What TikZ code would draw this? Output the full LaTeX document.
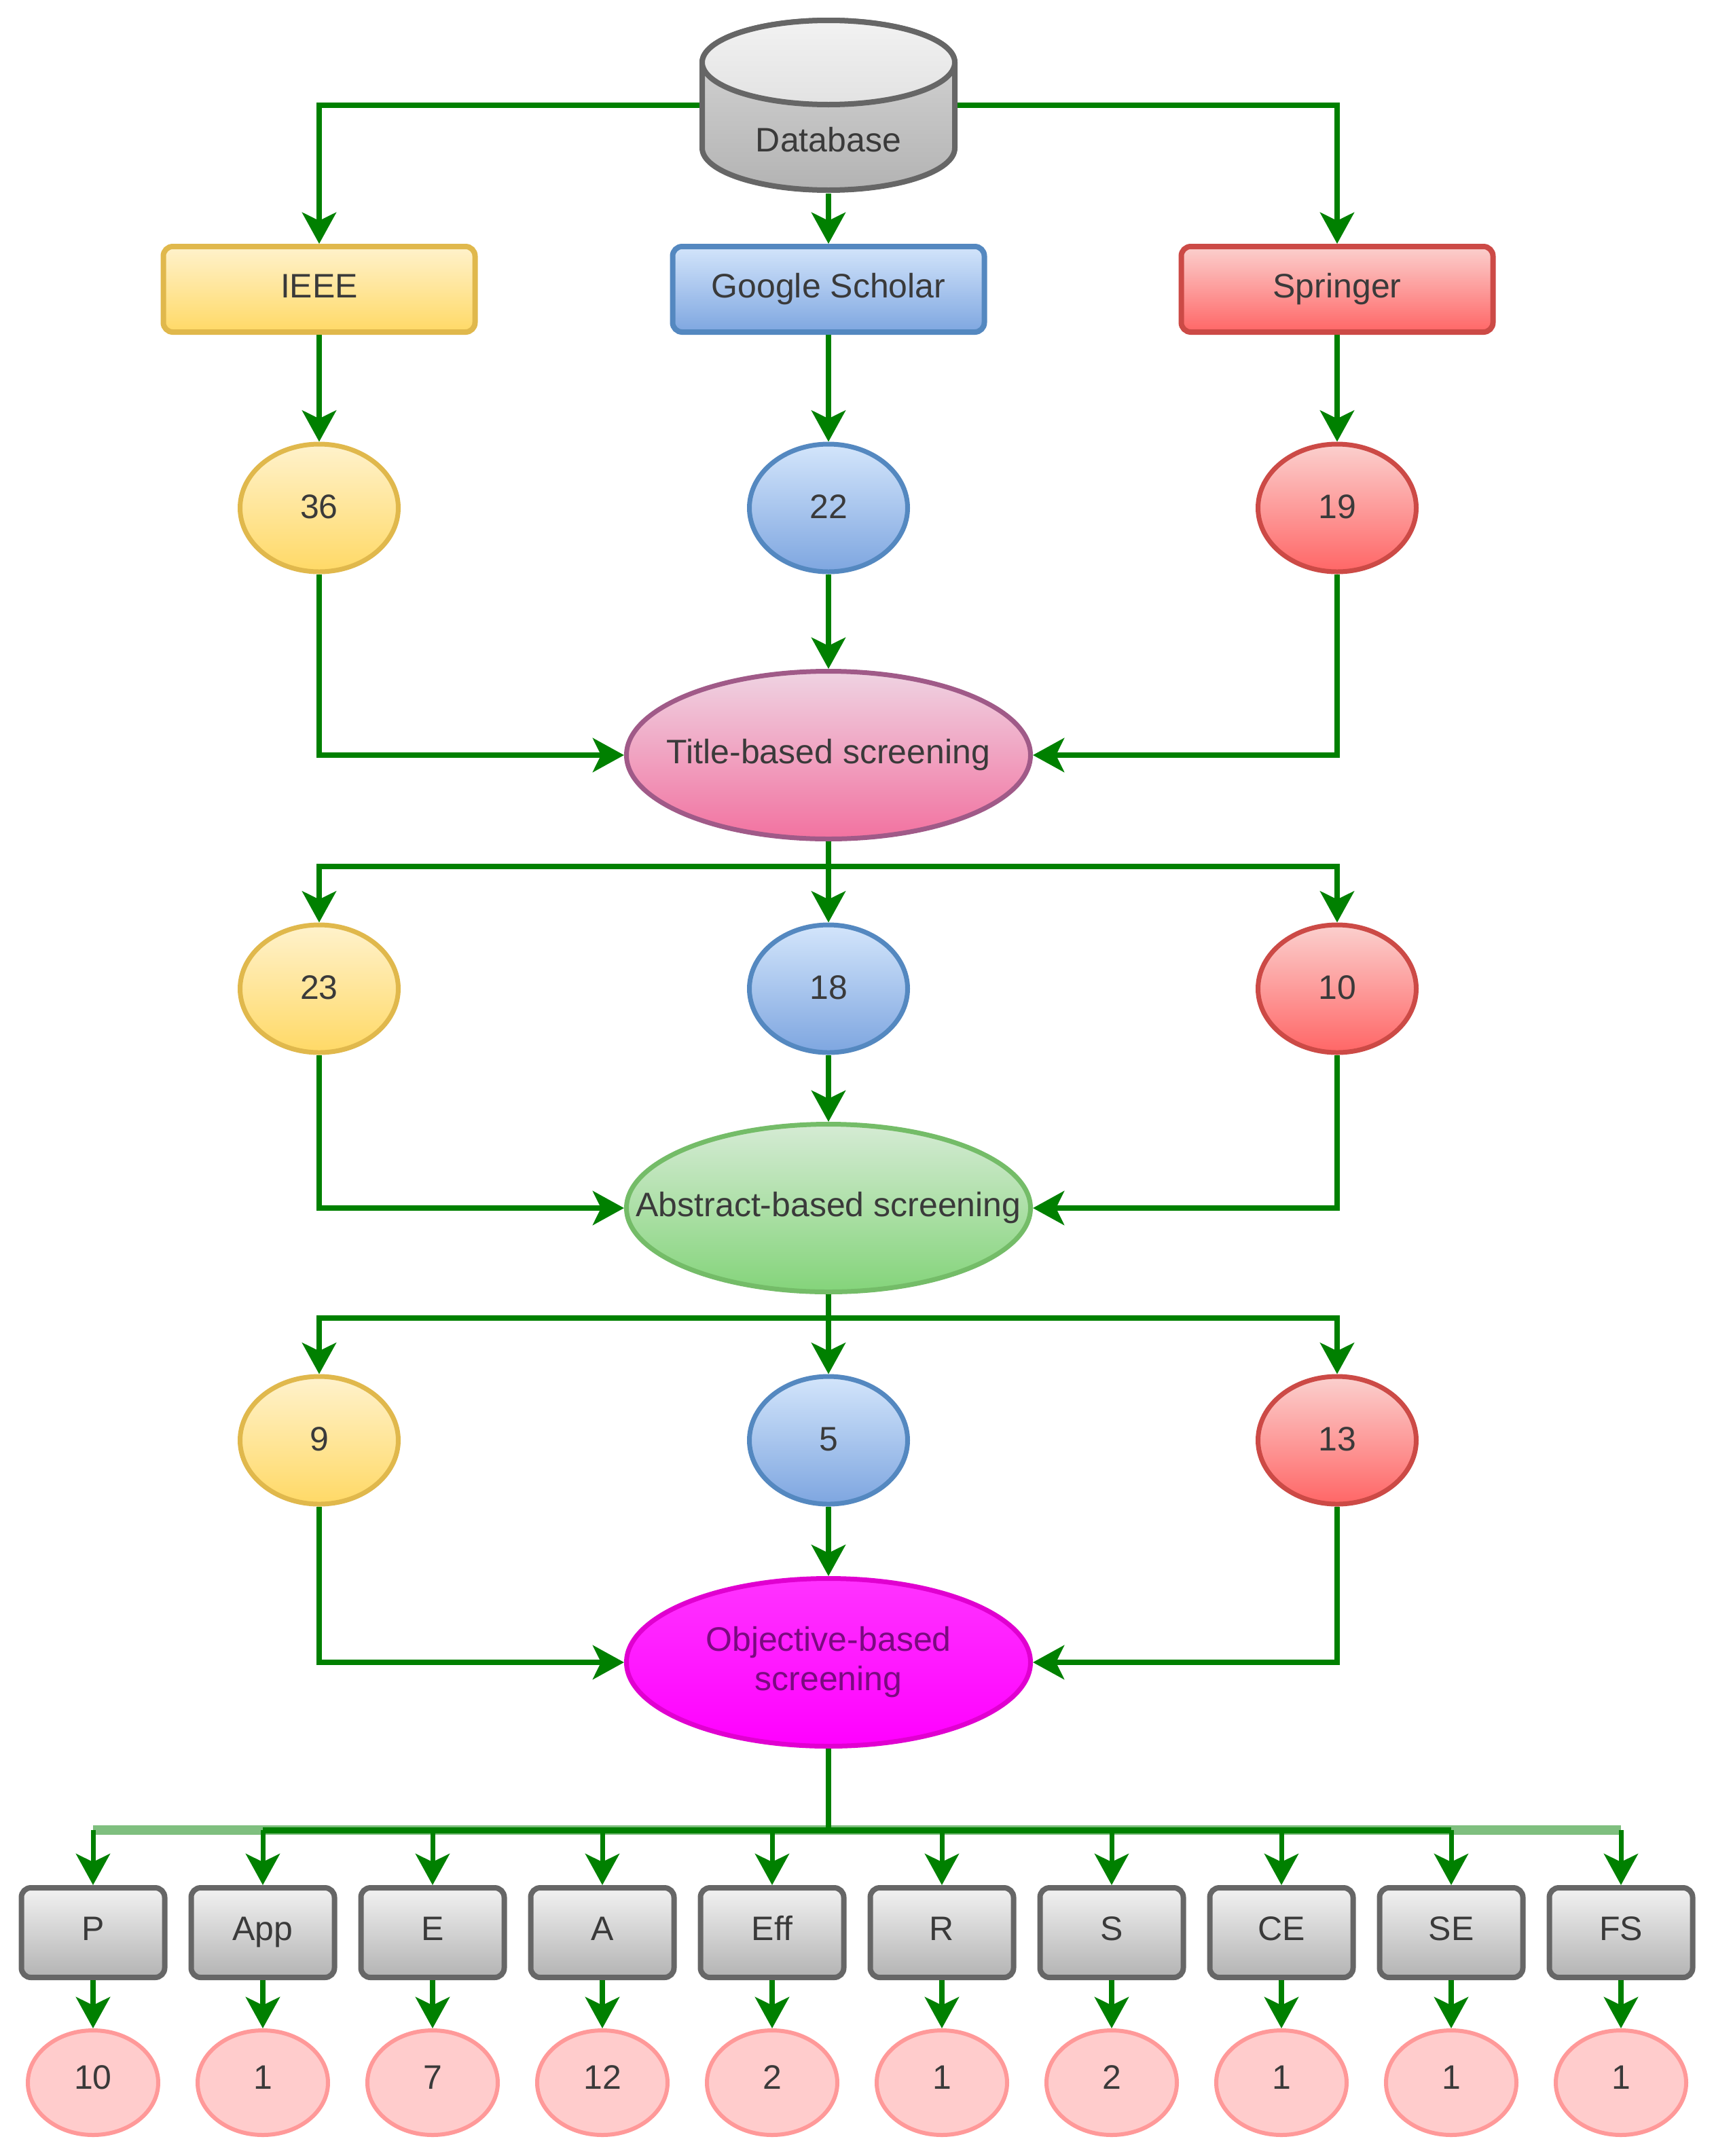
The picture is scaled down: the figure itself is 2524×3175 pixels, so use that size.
\documentclass[tikz,border=0pt]{standalone}
\usepackage{fontspec}
\setmainfont{Liberation Sans}
\usetikzlibrary{shapes.geometric,arrows.meta,calc}
\definecolor{flowgreen}{HTML}{008000}
\definecolor{buslight}{HTML}{7FBF7F}
\definecolor{txt}{HTML}{3A3A3A}
\definecolor{ytop}{HTML}{FFF2CC}\definecolor{ybot}{HTML}{FFD966}\definecolor{ydraw}{HTML}{E0B84C}
\definecolor{btop}{HTML}{D3E5FB}\definecolor{bbot}{HTML}{7EA6E0}\definecolor{bdraw}{HTML}{5488C0}
\definecolor{rtop}{HTML}{FBD0CE}\definecolor{rbot}{HTML}{FF6666}\definecolor{rdraw}{HTML}{CC4A46}
\definecolor{ptop}{HTML}{EFD3E2}\definecolor{pbot}{HTML}{F272A0}\definecolor{pdraw}{HTML}{A05A88}
\definecolor{gtop}{HTML}{D5EBD4}\definecolor{gbot}{HTML}{84D47A}\definecolor{gdraw}{HTML}{74BC68}
\definecolor{ktop}{HTML}{F2F2F2}\definecolor{kbot}{HTML}{B3B3B3}\definecolor{kdraw}{HTML}{666666}
\definecolor{mtop}{HTML}{FF33FF}\definecolor{mbot}{HTML}{FF00FF}\definecolor{mdraw}{HTML}{E000D0}
\definecolor{mtext}{HTML}{7A0A80}
\definecolor{sfill}{HTML}{FFCCCC}\definecolor{sdraw}{HTML}{FF9999}
\tikzset{
  base/.style={inner sep=0pt,font=\fontsize{50}{58}\selectfont,text=txt,align=center},
  yellow/.style={top color=ytop,bottom color=ybot,draw=ydraw},
  blue/.style={top color=btop,bottom color=bbot,draw=bdraw},
  red/.style={top color=rtop,bottom color=rbot,draw=rdraw},
  srcbox/.style={base,text height=36pt,text depth=12pt,rectangle,rounded corners=14pt,line width=8pt,minimum width=459pt,minimum height=126pt},
  count/.style={base,text height=36pt,text depth=6pt,ellipse,line width=7pt,minimum width=233pt,minimum height=188pt},
  screen/.style={base,ellipse,line width=7pt,minimum width=595pt,minimum height=247pt},
  metric/.style={base,text height=36pt,text depth=14pt,rectangle,rounded corners=14pt,line width=8pt,minimum width=211pt,minimum height=132pt,top color=ktop,bottom color=kbot,draw=kdraw},
  result/.style={base,text height=36pt,text depth=18pt,ellipse,line width=6pt,minimum width=192pt,minimum height=154pt,fill=sfill,draw=sdraw},
  flow/.style={draw=flowgreen,line width=8pt,-{Stealth[length=46pt,width=50pt,inset=12pt]}},
  plain/.style={draw=flowgreen,line width=8pt},
}
\begin{document}
\begin{tikzpicture}[x=1pt,y=-1pt]
\useasboundingbox (0,0) rectangle (2524,3175);
% Database cylinder
\draw[kdraw,line width=8pt,top color=ktop!60!kbot,bottom color=kbot] (1034,92) -- (1034,218) arc[start angle=180,end angle=0,x radius=186,y radius=62] -- (1406,92) arc[start angle=360,end angle=180,x radius=186,y radius=62] -- cycle;
\draw[kdraw,line width=8pt,top color=ktop,bottom color=ktop!75!kbot] (1220,92) ellipse[x radius=186,y radius=62];
\node[inner sep=0pt,minimum width=380pt,minimum height=260pt] (db) at (1220,155) {};
\node[base] (dbt) at (1220,206) {Database};
% Sources
\node[srcbox,yellow] (ieee) at (470,426) {IEEE};
\node[srcbox,blue] (gs) at (1220,426) {Google Scholar};
\node[srcbox,red] (spr) at (1969,426) {Springer};
% Counts
\node[count,yellow] (a1) at (470,748) {36};
\node[count,blue] (a2) at (1220,748) {22};
\node[count,red] (a3) at (1969,748) {19};
\node[screen,top color=ptop,bottom color=pbot,draw=pdraw] (title) at (1220,1112) {\makebox[0pt][c]{Title-based screening}};
\node[count,yellow] (b1) at (470,1456) {23};
\node[count,blue] (b2) at (1220,1456) {18};
\node[count,red] (b3) at (1969,1456) {10};
\node[screen,top color=gtop,bottom color=gbot,draw=gdraw] (abs) at (1220,1779) {\makebox[0pt][c]{Abstract-based screening}};
\node[count,yellow] (c1) at (470,2121) {9};
\node[count,blue] (c2) at (1220,2121) {5};
\node[count,red] (c3) at (1969,2121) {13};
\node[screen,top color=mtop,bottom color=mbot,draw=mdraw,text=mtext] (obj) at (1220,2448) {Objective-based\\screening};
% Metrics and results
\foreach \n/\t/\v [count=\i from 0] in {p/P/10,app/App/1,e/E/7,aa/A/12,eff/Eff/2,r/R/1,s/S/2,ce/CE/1,se/SE/1,fs/FS/1}{
  \node[metric] (m\n) at ({137+250*\i},2846) {\t};
  \node[result] (v\n) at ({137+250*\i},3067) {\v};
  \draw[flow] (m\n.south) -- (v\n.north);
}
% Helper coordinates
\coordinate (bus1) at (1220,1276);
\coordinate (bus2) at (1220,1941);
\coordinate (bus3) at (1220,2695);
% Top connectors
\draw[flow] (db.west) -| (ieee.north);
\draw[flow] (db.east) -| (spr.north);
\draw[flow] (db.south) -- (gs.north);
\draw[flow] (ieee.south) -- (a1.north);
\draw[flow] (gs.south) -- (a2.north);
\draw[flow] (spr.south) -- (a3.north);
\draw[flow] (a1.south) |- (title.west);
\draw[flow] (a2.south) -- (title.north);
\draw[flow] (a3.south) |- (title.east);
% Title to counts
\draw[flow] (title.south) -- (b2.north);
\draw[flow] (bus1) -| (b1.north);
\draw[flow] (bus1) -| (b3.north);
\draw[flow] (b1.south) |- (abs.west);
\draw[flow] (b2.south) -- (abs.north);
\draw[flow] (b3.south) |- (abs.east);
% Abstract to counts
\draw[flow] (abs.south) -- (c2.north);
\draw[flow] (bus2) -| (c1.north);
\draw[flow] (bus2) -| (c3.north);
\draw[flow] (c1.south) |- (obj.west);
\draw[flow] (c2.south) -- (obj.north);
\draw[flow] (c3.south) |- (obj.east);
% Bottom bus
\draw[buslight,line width=14pt] (mp.north |- bus3) -- (mfs.north |- bus3);
\draw[flowgreen,line width=9pt] (mapp.north |- bus3) -- (mse.north |- bus3);
\draw[plain] (obj.south) -- (bus3);
\foreach \n in {p,app,e,aa,eff,r,s,ce,se,fs}{
  \draw[flow,line width=7pt] (m\n.north |- bus3) -- (m\n.north);
}
\end{tikzpicture}
\end{document}
